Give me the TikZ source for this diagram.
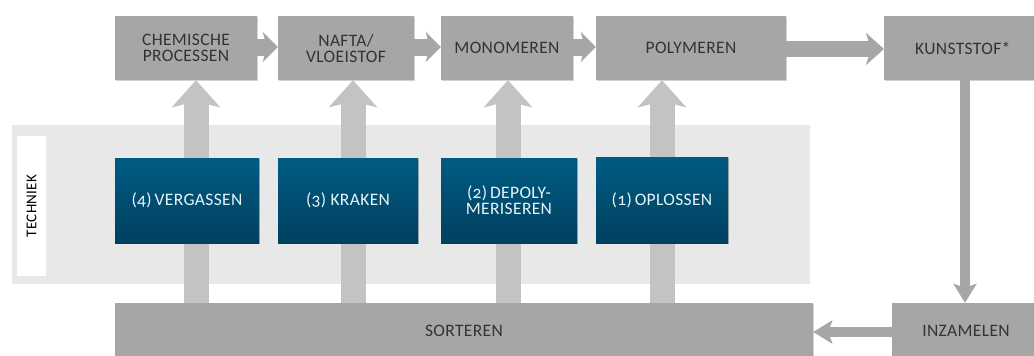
\documentclass[tikz,border=0pt]{standalone}
\usepackage{fontspec}
\setmainfont{Carlito}[Numbers=OldStyle, LetterSpace=2]
\usetikzlibrary{arrows.meta,shadows}
\definecolor{boxgray}{HTML}{A6A6A6}
\definecolor{arrgray}{HTML}{C3C3C3}
\definecolor{bandgray}{HTML}{E8E8E8}
\definecolor{txtgray}{HTML}{333333}
\definecolor{bluetop}{HTML}{005B83}
\definecolor{bluebot}{HTML}{00405F}
\definecolor{bluetxt}{HTML}{E8F4F8}
\begin{document}
\begin{tikzpicture}[x=1pt,y=-1pt,
  boxfont/.style={font=\fontsize{17.5}{16}\selectfont},
  gbox/.style={rectangle, fill=boxgray, text=txtgray, boxfont, align=center, inner sep=0pt,
    drop shadow={shadow xshift=0.8pt, shadow yshift=-1.2pt, fill=black, opacity=0.18}},
  bbox/.style={rectangle, top color=bluetop, bottom color=bluebot, text=bluetxt, boxfont, align=center, inner sep=0pt,
    drop shadow={shadow xshift=0.8pt, shadow yshift=-1.2pt, fill=black, opacity=0.25}},
  uparr/.style={draw=arrgray, line width=25pt, -{Stealth[length=27pt,width=48pt,inset=6pt]}},
  smarr/.style={draw=boxgray, line width=17pt, -{Stealth[length=15pt,width=30pt,inset=4pt]}},
  bigarr/.style={draw=boxgray, line width=16pt, -{Stealth[length=18pt,width=32pt,inset=5pt]}},
  thinarr/.style={draw=boxgray, line width=10.5pt, -{Stealth[length=19pt,width=23pt,inset=4pt]}},
]
\useasboundingbox (0,0) rectangle (1034,356);

% band
\node[rectangle, fill=bandgray, inner sep=0pt, minimum width=798, minimum height=159, anchor=north west] (band) at (12,125) {};
\node[rectangle, fill=white, inner sep=0pt, minimum width=140, minimum height=29, rotate=90,
      font=\fontsize{15}{15}\selectfont, text=black] (tech) at (31.5,206) {TECHNIEK};

% top row
\node[gbox, minimum width=142, minimum height=64] (chem) at (186,48) {CHEMISCHE\\PROCESSEN};
\node[gbox, minimum width=136, minimum height=64] (nafta) at (346,48) {NAFTA/\\VLOEISTOF};
\node[gbox, minimum width=132, minimum height=64] (mono) at (507,48) {MONOMEREN};
\node[gbox, minimum width=190, minimum height=64] (poly) at (691,48) {POLYMEREN};
\node[gbox, minimum width=160, minimum height=64, anchor=west, inner xsep=31pt, text width=98pt, align=left] (kunst) at (884,48) {KUNSTSTOF*};

% bottom row
\node[gbox, minimum width=698, minimum height=56] (sort) at (464,331) {SORTEREN};
\node[gbox, minimum width=148, minimum height=56] (inz) at (966,331) {INZAMELEN};

% up arrows
\coordinate (a1) at (196,0);
\coordinate (a2) at (353,0);
\coordinate (a3) at (508,0);
\coordinate (a4) at (662,0);
\draw[uparr] (sort.north -| a1) -- (chem.south -| a1);
\draw[uparr] (sort.north -| a2) -- (nafta.south -| a2);
\draw[uparr] (sort.north -| a3) -- (mono.south -| a3);
\draw[uparr] (sort.north -| a4) -- (poly.south -| a4);

% blue technique boxes
\node[bbox, minimum width=144, minimum height=85] (verg) at (187,200.5) {(4)\,VERGASSEN};
\node[bbox, minimum width=140, minimum height=85] (krak) at (348,200.5) {(3) KRAKEN};
\node[bbox, minimum width=136, minimum height=85] (depoly) at (509,200.5) {(2)\,DEPOLY-\\MERISEREN};
\node[bbox, minimum width=132, minimum height=86] (opl) at (662,200) {(1)\,OPLOSSEN};

% horizontal arrows
\coordinate (h1) at (0,47);
\draw[smarr] (chem.east |- h1) -- (nafta.west |- h1);
\draw[smarr] (nafta.east |- h1) -- (mono.west |- h1);
\draw[smarr] (mono.east |- h1) -- (poly.west |- h1);
\coordinate (h2) at (0,49);
\draw[bigarr] (poly.east |- h2) -- (kunst.west |- h2);

% return path
\coordinate (d1) at (965,0);
\draw[thinarr] (kunst.south -| d1) -- (inz.north -| d1);
\coordinate (h3) at (0,332);
\draw[thinarr] (inz.west |- h3) -- (sort.east |- h3);
\end{tikzpicture}
\end{document}
